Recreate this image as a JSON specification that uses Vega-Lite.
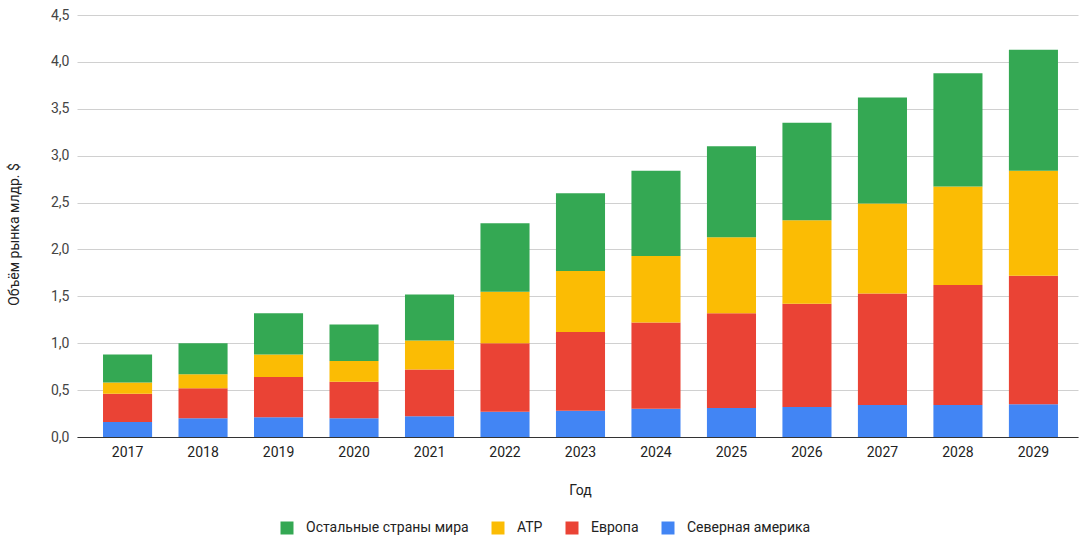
{
  "$schema": "https://vega.github.io/schema/vega-lite/v6.json",
  "width": 1001,
  "height": 422,
  "autosize": {"type": "none"},
  "padding": {"left": 77, "top": 15, "right": 1, "bottom": 98},
  "background": "white",
  "config": {
    "font": "Roboto",
    "view": {"stroke": null}
  },
  "data": {
    "values": [
      {"year": "2017", "region": "Северная америка", "value": 0.16},
      {"year": "2017", "region": "Европа", "value": 0.30},
      {"year": "2017", "region": "ATP", "value": 0.12},
      {"year": "2017", "region": "Остальные страны мира", "value": 0.30},
      {"year": "2018", "region": "Северная америка", "value": 0.20},
      {"year": "2018", "region": "Европа", "value": 0.32},
      {"year": "2018", "region": "ATP", "value": 0.15},
      {"year": "2018", "region": "Остальные страны мира", "value": 0.33},
      {"year": "2019", "region": "Северная америка", "value": 0.21},
      {"year": "2019", "region": "Европа", "value": 0.43},
      {"year": "2019", "region": "ATP", "value": 0.24},
      {"year": "2019", "region": "Остальные страны мира", "value": 0.44},
      {"year": "2020", "region": "Северная америка", "value": 0.20},
      {"year": "2020", "region": "Европа", "value": 0.39},
      {"year": "2020", "region": "ATP", "value": 0.22},
      {"year": "2020", "region": "Остальные страны мира", "value": 0.39},
      {"year": "2021", "region": "Северная америка", "value": 0.22},
      {"year": "2021", "region": "Европа", "value": 0.50},
      {"year": "2021", "region": "ATP", "value": 0.31},
      {"year": "2021", "region": "Остальные страны мира", "value": 0.49},
      {"year": "2022", "region": "Северная америка", "value": 0.27},
      {"year": "2022", "region": "Европа", "value": 0.73},
      {"year": "2022", "region": "ATP", "value": 0.55},
      {"year": "2022", "region": "Остальные страны мира", "value": 0.73},
      {"year": "2023", "region": "Северная америка", "value": 0.28},
      {"year": "2023", "region": "Европа", "value": 0.84},
      {"year": "2023", "region": "ATP", "value": 0.65},
      {"year": "2023", "region": "Остальные страны мира", "value": 0.83},
      {"year": "2024", "region": "Северная америка", "value": 0.30},
      {"year": "2024", "region": "Европа", "value": 0.92},
      {"year": "2024", "region": "ATP", "value": 0.71},
      {"year": "2024", "region": "Остальные страны мира", "value": 0.91},
      {"year": "2025", "region": "Северная америка", "value": 0.31},
      {"year": "2025", "region": "Европа", "value": 1.01},
      {"year": "2025", "region": "ATP", "value": 0.81},
      {"year": "2025", "region": "Остальные страны мира", "value": 0.97},
      {"year": "2026", "region": "Северная америка", "value": 0.32},
      {"year": "2026", "region": "Европа", "value": 1.10},
      {"year": "2026", "region": "ATP", "value": 0.89},
      {"year": "2026", "region": "Остальные страны мира", "value": 1.04},
      {"year": "2027", "region": "Северная америка", "value": 0.34},
      {"year": "2027", "region": "Европа", "value": 1.19},
      {"year": "2027", "region": "ATP", "value": 0.96},
      {"year": "2027", "region": "Остальные страны мира", "value": 1.13},
      {"year": "2028", "region": "Северная америка", "value": 0.34},
      {"year": "2028", "region": "Европа", "value": 1.28},
      {"year": "2028", "region": "ATP", "value": 1.05},
      {"year": "2028", "region": "Остальные страны мира", "value": 1.21},
      {"year": "2029", "region": "Северная америка", "value": 0.35},
      {"year": "2029", "region": "Европа", "value": 1.37},
      {"year": "2029", "region": "ATP", "value": 1.12},
      {"year": "2029", "region": "Остальные страны мира", "value": 1.29}
    ]
  },
  "transform": [
    {"calculate": "indexof(['Северная америка', 'Европа', 'ATP', 'Остальные страны мира'], datum.region)", "as": "stackRank"}
  ],
  "mark": {"type": "bar"},
  "encoding": {
    "x": {
      "field": "year",
      "type": "ordinal",
      "title": "Год",
      "scale": {"paddingInner": 0.35, "paddingOuter": 0.305, "align": 0.565},
      "axis": {
        "labelAngle": 0,
        "labelFont": "Roboto",
        "labelFontSize": 14,
        "labelColor": "#222222",
        "labelPadding": 8,
        "ticks": false,
        "domainColor": "#333333",
        "domainWidth": 1,
        "titleFont": "Roboto",
        "titleFontSize": 14,
        "titleFontWeight": "normal",
        "titleColor": "#222222",
        "titleX": 503,
        "titleY": 53,
        "titleBaseline": "middle",
        "titleAlign": "center"
      }
    },
    "y": {
      "field": "value",
      "type": "quantitative",
      "stack": "zero",
      "title": "Объём рынка млдр. $",
      "scale": {"domain": [0, 4.5], "nice": false},
      "axis": {
        "values": [0, 0.5, 1, 1.5, 2, 2.5, 3, 3.5, 4, 4.5],
        "labelExpr": "replace(format(datum.value, '.1f'), '.', ',')",
        "labelFont": "Roboto",
        "labelFontSize": 14,
        "labelColor": "#444444",
        "labelPadding": 8,
        "ticks": false,
        "domain": false,
        "gridColor": "#d0d0d0",
        "gridWidth": 1,
        "titleFont": "Roboto",
        "titleFontSize": 14,
        "titleFontWeight": "normal",
        "titleColor": "#222222",
        "titleAngle": -90,
        "titleX": -63,
        "titleY": 219,
        "titleAlign": "center",
        "titleBaseline": "middle"
      }
    },
    "order": {"field": "stackRank", "type": "quantitative", "sort": "ascending"},
    "color": {
      "field": "region",
      "type": "nominal",
      "scale": {
        "domain": ["Остальные страны мира", "ATP", "Европа", "Северная америка"],
        "range": ["#34a853", "#fbbc04", "#ea4335", "#4285f4"]
      },
      "legend": {
        "title": null,
        "orient": "none",
        "direction": "horizontal",
        "legendX": 203,
        "legendY": 506,
        "symbolType": "square",
        "symbolSize": 169,
        "symbolStrokeWidth": 0,
        "symbolOpacity": 1,
        "labelFont": "Roboto",
        "labelFontSize": 14,
        "labelColor": "#222222",
        "labelOffset": 12,
        "labelLimit": 300,
        "columnPadding": 22
      }
    }
  }
}
